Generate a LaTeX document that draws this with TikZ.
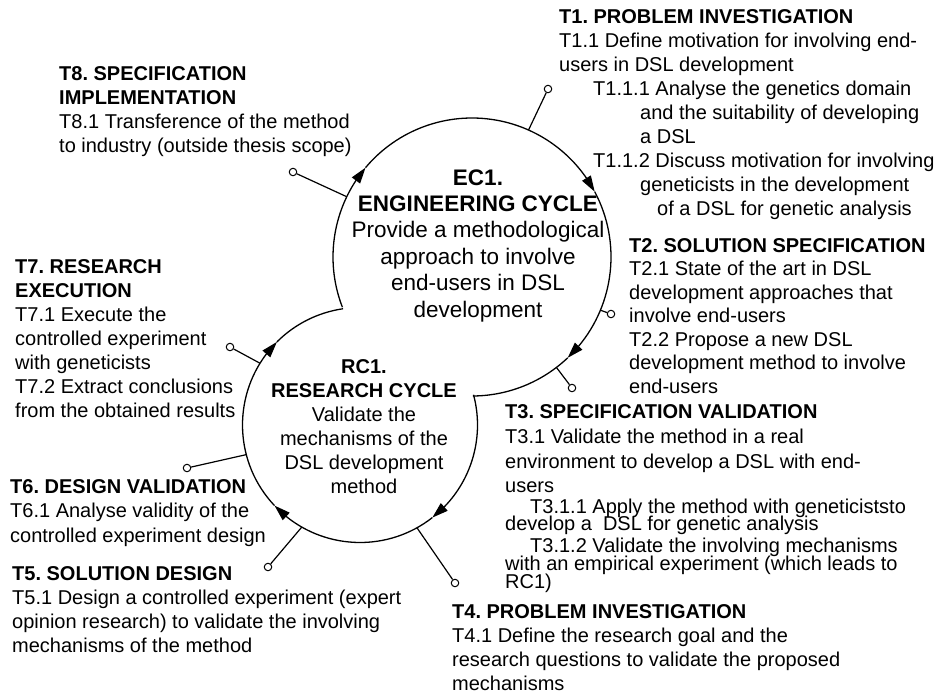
\documentclass[tikz,border=0pt]{standalone}
\usepackage{fontspec}
\setmainfont{Liberation Sans}
\usetikzlibrary{arrows.meta,calc,bending}

% stacked lines with exact baseline spacing; the box baseline is the first line
\newcommand{\lcol}[1]{\vtop{\lineskiplimit=-\maxdimen\halign{##\hfil\cr#1\crcr}}}
\newcommand{\ccol}[1]{\vtop{\lineskiplimit=-\maxdimen\halign{\hfil##\hfil\cr#1\crcr}}}

\tikzset{
  txt/.style={anchor=base west, inner sep=0pt, font=\fontsize{20}{24}\selectfont},
  ctxt/.style={anchor=base, inner sep=0pt},
  pinend/.style={circle, draw, fill=white, minimum size=7.5pt, inner sep=0pt, line width=1pt},
  cyc/.style={line width=1.3pt},
  cycarrow/.style={cyc, -{Triangle[length=16pt,width=10pt]}},
  pinline/.style={line width=1.2pt},
}

\begin{document}
\frenchspacing
\begin{tikzpicture}[x=1pt,y=1pt]
\useasboundingbox (0,0) rectangle (943,-694);

% cycle centres
\coordinate (C1) at (472,-257);
\coordinate (C2) at (360,-425);

% engineering cycle (clockwise)
\draw[cycarrow] ($(C1)+(201.2:139)$) arc[start angle=201.2, end angle=140, radius=139];
\draw[cycarrow] ($(C1)+(140:139)$) arc[start angle=140, end angle=28, radius=139];
\draw[cycarrow] ($(C1)+(28:139)$) arc[start angle=28, end angle=-46.5, radius=139];
\draw[cyc] ($(C1)+(-46.5:139)$) arc[start angle=-46.5, end angle=-89.6, radius=139];

% research cycle (clockwise)
\draw[cycarrow] ($(C2)+(14.9:117.5)$) arc[start angle=14.9, end angle=-52, radius=117.5];
\draw[cycarrow] ($(C2)+(-52:117.5)$) arc[start angle=-52, end angle=-136.7, radius=117.5];
\draw[cycarrow] ($(C2)+(-136.7:117.5)$) arc[start angle=-136.7, end angle=-225, radius=117.5];
\draw[cyc] ($(C2)+(-225:117.5)$) arc[start angle=-225, end angle=-261.7, radius=117.5];

% attachment points on the cycles
\coordinate (p1) at ($(C1)+(66:139)$);
\coordinate (p2) at ($(C1)+(-22.5:139)$);
\coordinate (p3) at ($(C1)+(-52.6:139)$);
\coordinate (p8) at ($(C1)+(154.3:139)$);
\coordinate (p4) at ($(C2)+(-61:117.5)$);
\coordinate (p5) at ($(C2)+(240.3:117.5)$);
\coordinate (p6) at ($(C2)+(194.6:117.5)$);
\coordinate (p7) at ($(C2)+(148.3:117.5)$);

% pin ends
\node[pinend] (e1) at (548,-89) {};
\node[pinend] (e2) at (611,-314) {};
\node[pinend] (e3) at (572,-388) {};
\node[pinend] (e4) at (455,-583) {};
\node[pinend] (e5) at (268,-567) {};
\node[pinend] (e6) at (187,-468) {};
\node[pinend] (e7) at (230,-347) {};
\node[pinend] (e8) at (293,-172) {};

\foreach \i in {1,...,8} \draw[pinline] (p\i) -- (e\i);

% cycle labels
\node[ctxt, font=\fontsize{22.5}{26.4}\selectfont] (ec1) at (478,-185)
  {\ccol{\textbf{EC1.}\cr\textbf{ENGINEERING CYCLE}\cr Provide a methodological\cr approach to involve\cr end-users in DSL\cr development}};
\node[ctxt, font=\fontsize{20}{24}\selectfont] (rc1) at (364,-373)
  {\ccol{\textbf{RC1.}\cr\textbf{RESEARCH CYCLE}\cr Validate the\cr mechanisms of the\cr DSL development\cr method}};

% task descriptions
\node[txt] (t1) at (559,-23) {\lcol{\textbf{T1. PROBLEM INVESTIGATION}\cr
T1.1 Define motivation for involving end-\cr
users in DSL development\cr
\hspace*{34pt}T1.1.1 Analyse the genetics domain\cr
\hspace*{81pt}and the suitability of developing\cr
\hspace*{81pt}a DSL\cr
\hspace*{34pt}T1.1.2 Discuss motivation for involving\cr
\hspace*{81pt}geneticists in the development\cr
\hspace*{98pt}of a DSL for genetic analysis}};

\node[txt, font=\fontsize{20}{23.5}\selectfont] (t2) at (629,-252) {\lcol{\textbf{T2. SOLUTION SPECIFICATION}\cr
T2.1 State of the art in DSL\cr
development approaches that\cr
involve end-users\cr
T2.2 Propose a new DSL\cr
development method to involve\cr
end-users}};

\node[txt] (t3) at (505,-418) {\lcol{\textbf{T3. SPECIFICATION VALIDATION}\cr\noalign{\vskip1pt}
T3.1 Validate the method in a real\cr\noalign{\vskip1pt}
environment to develop a DSL with end-\cr
users\cr\noalign{\vskip-3pt}
\hspace*{25pt}T3.1.1 Apply the method with geneticiststo\cr\noalign{\vskip-7pt}
develop a \ DSL for genetic analysis\cr\noalign{\vskip-2pt}
\hspace*{25pt}T3.1.2 Validate the involving mechanisms\cr\noalign{\vskip-6pt}
with an empirical experiment (which leads to\cr\noalign{\vskip-6pt}
RC1)}};

\node[txt] (t4) at (452,-618) {\lcol{\textbf{T4. PROBLEM INVESTIGATION}\cr
T4.1 Define the research goal and the\cr
research questions to validate the proposed\cr
mechanisms}};

\node[txt] (t5) at (12,-580) {\lcol{\textbf{T5. SOLUTION DESIGN}\cr
T5.1 Design a controlled experiment (expert\cr
opinion research) to validate the involving\cr
mechanisms of the method}};

\node[txt, font=\fontsize{20}{24.5}\selectfont] (t6) at (10,-493) {\lcol{\textbf{T6. DESIGN VALIDATION}\cr
T6.1 Analyse validity of the\cr
controlled experiment design}};

\node[txt] (t7) at (15,-273) {\lcol{\textbf{T7. RESEARCH}\cr
\textbf{EXECUTION}\cr
T7.1 Execute the\cr
controlled experiment\cr
with geneticists\cr
T7.2 Extract conclusions\cr
from the obtained results}};

\node[txt, font=\fontsize{20}{24.3}\selectfont] (t8) at (59,-80) {\lcol{\textbf{T8. SPECIFICATION}\cr
\textbf{IMPLEMENTATION}\cr
T8.1 Transference of the method\cr
to industry (outside thesis scope)}};
\end{tikzpicture}
\end{document}
